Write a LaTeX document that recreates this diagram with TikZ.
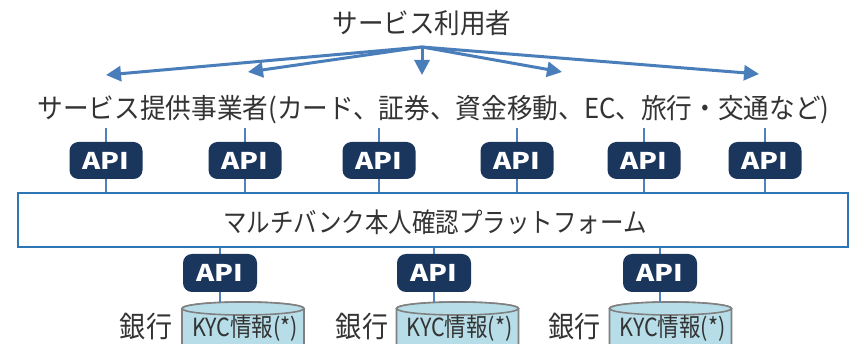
\documentclass[tikz,border=0pt]{standalone}
\usepackage{graphicx}
\usepackage{fontspec}
\setmainfont{Noto Sans CJK JP}
\usetikzlibrary{arrows.meta}
\newcommand\hsq[2]{\scalebox{#1}[1]{#2}}
\definecolor{txt}{RGB}{51,51,51}
\definecolor{arrowblue}{RGB}{74,126,187}
\definecolor{lineblue}{RGB}{79,129,189}
\definecolor{platblue}{RGB}{46,117,182}
\definecolor{apinavy}{RGB}{27,54,93}
\definecolor{cylfill}{RGB}{183,222,232}
\definecolor{cylline}{RGB}{128,128,128}
\tikzset{
  bigtext/.style={text=txt, inner sep=0pt, font=\fontsize{27.5}{32}\selectfont},
  apibox/.style={draw=none, fill=apinavy, rounded corners=9pt, minimum width=73pt, minimum height=37pt, inner sep=0pt, text=white, font=\fontsize{23}{26}\selectfont\bfseries},
  uarrow/.style={draw=arrowblue, line width=3pt, -{Triangle[length=15pt,width=15pt]}},
  conn/.style={draw=lineblue, line width=2pt},
  platbox/.style={draw=platblue, line width=2pt, fill=white, minimum width=830pt, minimum height=54pt, inner sep=0pt},
  cyl/.style={draw=cylline, line width=1.6pt, fill=cylfill},
  kyctext/.style={text=txt, inner sep=0pt, font=\fontsize{25}{28}\selectfont},
  banktext/.style={text=txt, inner sep=0pt, font=\fontsize{29}{32}\selectfont},
}
\begin{document}
\begin{tikzpicture}[x=1pt, y=-1pt]
\clip (0,0) rectangle (852,344);
\fill[white] (0,0) rectangle (852,344);
% users
\node[bigtext] (user) at (422,23.5) {\hsq{0.93}{サービス利用者}};
\coordinate (hub) at (422,47);
\coordinate (t1) at (106,75);
\coordinate (t2) at (248,72);
\coordinate (t3) at (422,75);
\coordinate (t4) at (562,72);
\coordinate (t5) at (759,74);
\foreach \t in {t1,t2,t3,t4,t5} \draw[uarrow] (hub) -- (\t);
% providers
\node[bigtext] (prov) at (433.5,110) {\hsq{0.933}{サービス提供事業者(カード、証券、資金移動、EC、旅行・交通など)}};
% platform
\node[platbox] (plat) at (433,220) {};
\node[bigtext, font=\fontsize{27}{30}\selectfont] (plattext) at (435,222) {\hsq{0.87}{マルチバンク本人確認プラットフォーム}};
% top APIs
\foreach \i/\x in {1/106,2/245,3/379,4/517,5/644,6/765} {
  \coordinate (top\i) at (\x,128);
  \draw[conn] (top\i) -- (top\i |- plat.north);
  \node[apibox] (apiT\i) at (\x,160.5) {\hsq{1.2}{API}};
}
% bottom APIs and banks
\foreach \i/\x/\cx/\bx in {1/220/243/146,2/434/457.5/362,3/660/670.5/574.5} {
  \coordinate (cyltop\i) at (\x,302);
  \draw[cyl] (\cx-61,308.5) -- (\cx-61,360) -- (\cx+61,360) -- (\cx+61,308.5) arc[start angle=0, end angle=-180, x radius=61, y radius=6.5];
  \draw[cyl] (\cx,308.5) ellipse[x radius=61, y radius=6.5];
  \draw[conn] (plat.south -| cyltop\i) -- (cyltop\i);
  \node[apibox, minimum width=74pt, minimum height=38pt] (apiB\i) at (\x,273) {\hsq{1.2}{API}};
  \node[kyctext] (kyc\i) at (\cx+2,328) {\hsq{0.86}{KYC情報(*)}};
  \node[banktext] (bank\i) at (\bx,327) {\hsq{0.9}{銀行}};
}
\end{tikzpicture}
\end{document}
